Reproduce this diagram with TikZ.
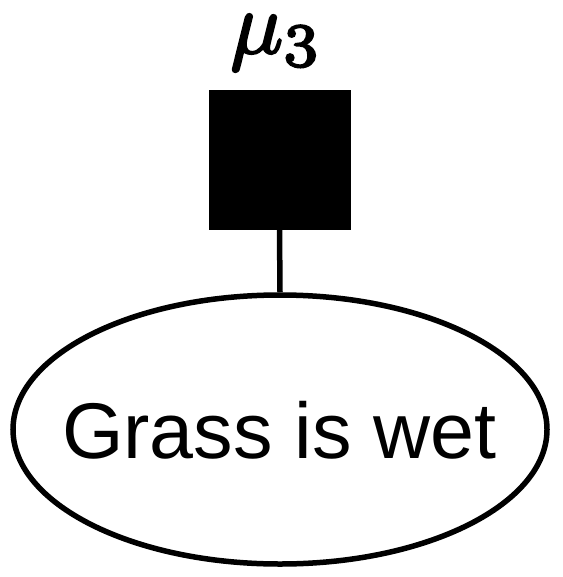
\documentclass[tikz,border=0pt]{standalone}
\usepackage{fontspec}
\setsansfont{Liberation Sans}
\usetikzlibrary{shapes.geometric}
\newcommand{\thickentext}[1]{\special{pdf:literal direct 2 Tr 0.25 w}#1\special{pdf:literal direct 0 Tr}}
\begin{document}
\begin{tikzpicture}[x=1pt,y=-1pt,
  factor/.style={draw=black,fill=black,minimum width=141pt,minimum height=139pt,inner sep=0pt},
  varnode/.style={draw=black,ellipse,line width=5.5pt,minimum width=534pt,minimum height=269pt,inner sep=0pt},
  vartext/.style={inner sep=0pt,font=\sffamily\fontsize{79}{82}\selectfont},
  flabel/.style={inner sep=0pt,anchor=base,scale=8.8},
  edge/.style={line width=5.5pt}]
\useasboundingbox (0,0) rectangle (562,577);
\node[factor] (f) at (279.5,160) {};
\node[flabel] (lab) at (276.5,53) {\thickentext{$\mu_3$}};
\node[varnode] (v) at (280,429.5) {};
\node[vartext,anchor=base] (vt) at (279.5,458) {Grass is wet};
\draw[edge] (f.south) -- (v.north);
\end{tikzpicture}
\end{document}
